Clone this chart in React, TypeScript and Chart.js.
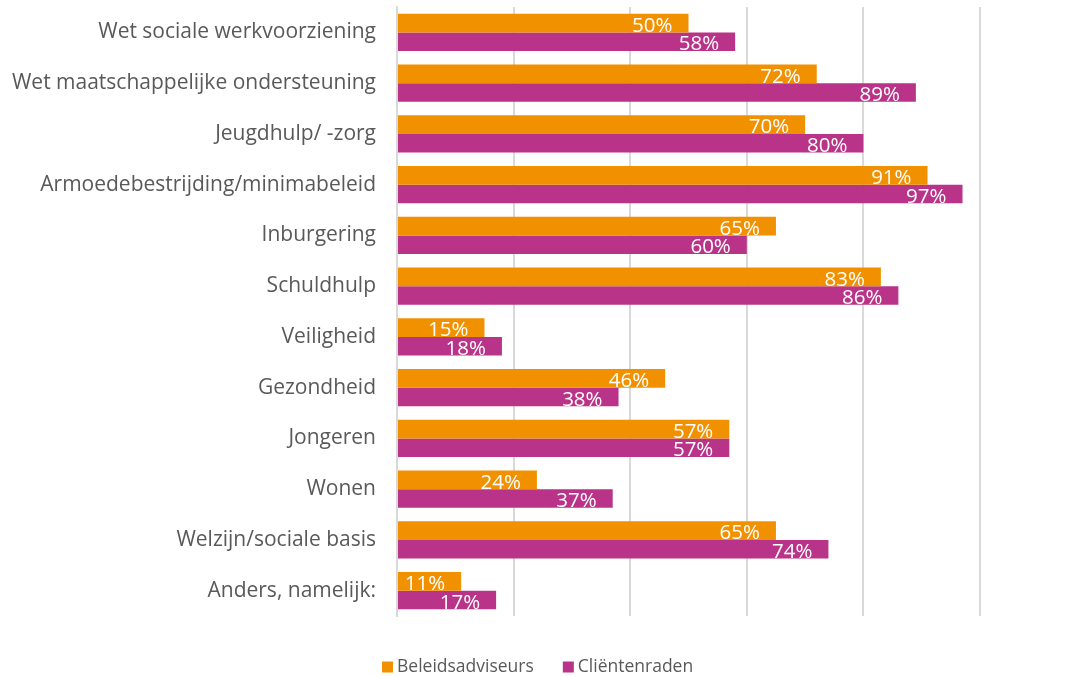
import React, { useEffect, useRef } from "react";
import { Chart, registerables } from "chart.js";

Chart.register(...registerables);

const categories = [
  "Wet sociale werkvoorziening",
  "Wet maatschappelijke ondersteuning",
  "Jeugdhulp/ -zorg",
  "Armoedebestrijding/minimabeleid",
  "Inburgering",
  "Schuldhulp",
  "Veiligheid",
  "Gezondheid",
  "Jongeren",
  "Wonen",
  "Welzijn/sociale basis",
  "Anders, namelijk:",
];
const beleidsadviseurs = [50, 72, 70, 91, 65, 83, 15, 46, 57, 24, 65, 11];
const clientenraden = [58, 89, 80, 97, 60, 86, 18, 38, 57, 37, 74, 17];
const seriesNames = ["Beleidsadviseurs", "Cliëntenraden"];
const seriesColors = ["#F29100", "#B93388"];

const FONT = "'Open Sans', sans-serif";

const valueLabels = {
  id: "valueLabels",
  afterDatasetsDraw(chart: any) {
    const ctx = chart.ctx;
    ctx.save();
    ctx.font = `20.5px ${FONT}`;
    ctx.fillStyle = "#ffffff";
    ctx.textAlign = "right";
    ctx.textBaseline = "alphabetic";
    chart.data.datasets.forEach((ds: any, di: number) => {
      const meta = chart.getDatasetMeta(di);
      meta.data.forEach((el: any, i: number) => {
        const v = ds.data[i];
        ctx.fillText(v + "%", el.x - 16, el.y + el.height / 2 - 0.5);
      });
    });
    ctx.restore();
  },
};

const customLegend = {
  id: "customLegend",
  afterDraw(chart: any) {
    const ctx = chart.ctx;
    ctx.save();
    ctx.font = `17.5px ${FONT}`;
    ctx.textBaseline = "middle";
    ctx.textAlign = "left";
    const cy = 667;
    let x = 382;
    seriesNames.forEach((name, i) => {
      ctx.fillStyle = seriesColors[i];
      ctx.fillRect(x, cy - 5.5, 11, 11);
      ctx.fillStyle = "#595959";
      ctx.fillText(name, x + 15, cy);
      x = x + 15 + ctx.measureText(name).width + 29;
    });
    ctx.restore();
  },
};

export default function App() {
  const ref = useRef<HTMLCanvasElement>(null);
  useEffect(() => {
    if (!ref.current) return;
    const chart = new Chart(ref.current, {
      type: "bar",
      data: {
        labels: categories,
        datasets: [
          {
            label: seriesNames[0],
            data: beleidsadviseurs,
            backgroundColor: seriesColors[0],
            categoryPercentage: 0.73,
            barPercentage: 1,
          },
          {
            label: seriesNames[1],
            data: clientenraden,
            backgroundColor: seriesColors[1],
            categoryPercentage: 0.73,
            barPercentage: 1,
          },
        ],
      },
      options: {
        indexAxis: "y",
        animation: false,
        responsive: false,
        maintainAspectRatio: false,
        layout: { padding: { left: 0, right: 107, top: 7, bottom: 60 } },
        plugins: {
          legend: { display: false },
          tooltip: { enabled: false },
        },
        scales: {
          x: {
            min: 0,
            max: 100,
            ticks: { display: false, stepSize: 20 },
            grid: { color: "#d9d9d9", lineWidth: 2, drawTicks: false },
            border: { display: false },
            afterFit: (s: any) => {
              s.height = 0;
              s.paddingLeft = 0;
              s.paddingRight = 0;
            },
          },
          y: {
            grid: { display: false, drawTicks: false },
            border: { display: true, color: "#d9d9d9", width: 2 },
            ticks: {
              color: "#595959",
              font: { family: FONT, size: 21 },
              padding: 21,
            },
            afterFit: (s: any) => {
              s.width = 397;
              s.paddingTop = 0;
              s.paddingBottom = 0;
            },
          },
        },
      },
      plugins: [valueLabels, customLegend],
    });
    return () => chart.destroy();
  }, []);
  return (
    <div style={{ position: "fixed", left: 0, top: 0, width: 1087, height: 676, background: "#fff" }}>
      <canvas ref={ref} width={1087} height={676} style={{ width: 1087, height: 676 }} />
    </div>
  );
}
